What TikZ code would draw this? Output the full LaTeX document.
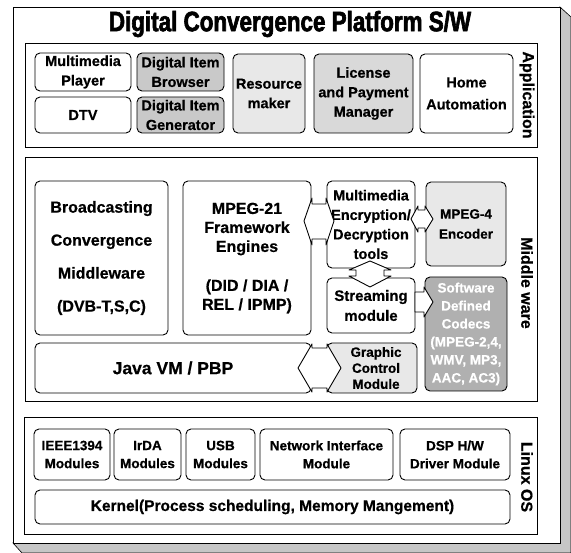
\documentclass[tikz,border=0pt]{standalone}
\usepackage{fontspec}
\setmainfont{Liberation Sans}[BoldFeatures={FakeBold=0.6}]
\newfontfamily\titlefont[FakeStretch=0.8,FakeBold=2.2]{Liberation Sans}
\newcommand\mkbox[7]{\node[#6, minimum width={#4-#2}, minimum height={#5-#3}] (#1) at ({(#2+#4)/2},{(#3+#5)/2}) {#7};}
\begin{document}
\begin{tikzpicture}[x=1pt,y=-1pt,
  frame/.style={draw=black, line width=0.7pt, inner sep=0pt},
  box/.style={draw=black, line width=0.9pt, rounded corners=5pt, inner sep=0pt, align=center, font=\bfseries\fontsize{14.5}{19.5}\selectfont},
  shA/.style={box, fill=gray!42},
  shB/.style={box, fill=gray!18},
  shC/.style={box, fill=gray!30},
  shD/.style={box, fill=gray!62, text=white},
  side/.style={rotate=-90, font=\bfseries\fontsize{16}{18}\selectfont},
  blk/.style={draw=black, line width=0.9pt, fill=white, line join=round}]
\useasboundingbox (0,0) rectangle (571,553);
% shadow and outer frame
\filldraw[fill=gray!45, draw=black, line width=0.6pt] (560,7) -- (571,17) -- (571,553) -- (22,553) -- (13,543) -- (560,543) -- cycle;
\mkbox{outer}{13}{7}{560}{543}{frame, fill=white}{}
\node[font=\titlefont\bfseries\fontsize{28}{30}\selectfont] (title) at (290,24) {Digital Convergence Platform S/W};
% application layer
\mkbox{app}{25}{43}{537}{147}{frame}{}
\node[side] (applbl) at (527,95) {Application};
\mkbox{mp}{35}{53}{131}{91}{box}{Multimedia\\Player}
\mkbox{dtv}{35}{97}{131}{133}{box}{DTV}
\mkbox{dib}{137}{53}{224}{91}{shA}{Digital Item\\Browser}
\mkbox{dig}{137}{97}{224}{133}{shA}{Digital Item\\Generator}
\mkbox{res}{233}{54}{305}{133}{shB}{Resource\\maker}
\mkbox{lic}{314}{54}{413}{133}{shC}{License\\and Payment\\Manager}
\mkbox{home}{420}{54}{513}{133}{box, font=\bfseries\fontsize{14.5}{22}\selectfont}{Home\\Automation}
% middleware layer
\mkbox{mid}{25}{157}{537}{401}{frame}{}
\node[side] (midlbl) at (527,283) {Middle ware};
\mkbox{bcm}{35}{181}{168}{335}{box, font=\bfseries\fontsize{16}{33}\selectfont}{Broadcasting\\Convergence\\Middleware\\(DVB-T,S,C)}
\mkbox{m21}{183}{181}{311}{335}{box, font=\bfseries\fontsize{16}{19}\selectfont}{MPEG-21\\Framework\\Engines\\[20pt](DID / DIA /\\REL / IPMP)}
\mkbox{enc}{327}{181}{415}{268}{box}{Multimedia\\Encryption/\\Decryption\\tools}
\mkbox{m4}{426}{182}{506}{266}{shB, font=\bfseries\fontsize{13.5}{20}\selectfont}{MPEG-4\\Encoder}
\mkbox{str}{327}{278}{415}{333}{box, font=\bfseries\fontsize{15}{20}\selectfont}{Streaming\\module}
\mkbox{sdc}{425}{277}{507}{391}{shD, font=\bfseries\fontsize{13.5}{18}\selectfont}{Software\\Defined\\Codecs\\(MPEG-2,4,\\WMV, MP3,\\AAC, AC3)}
\mkbox{java}{35}{343}{311}{393}{box, font=\bfseries\fontsize{17.5}{19}\selectfont}{Java VM / PBP}
\mkbox{gcm}{327}{343}{417}{393}{shB, font=\bfseries\fontsize{13.5}{16}\selectfont}{\hspace*{8pt}Graphic\\\hspace*{8pt}Control\\\hspace*{8pt}Module}
% block arrows
\draw[blk] (304,221) -- (312,198) -- (312,204) -- (326,204) -- (326,198) -- (334,221) -- (326,245) -- (326,239) -- (312,239) -- (312,245) -- cycle;
\draw[blk] (411,219) -- (418,206) -- (418,210) -- (425,210) -- (425,206) -- (433,219) -- (425,232) -- (425,228) -- (418,228) -- (418,232) -- cycle;
\draw[blk] (370,261) -- (391,270) -- (384,270) -- (384,276) -- (391,276) -- (370,287) -- (349,276) -- (356,276) -- (356,270) -- (349,270) -- cycle;
\draw[blk] (415,292) -- (424,292) -- (424,287) -- (433,302) -- (424,317) -- (424,312) -- (415,312) -- cycle;
\draw[blk] (298,368) -- (312,344) -- (312,348) -- (327,348) -- (327,344) -- (341,368) -- (327,392) -- (327,388) -- (312,388) -- (312,392) -- cycle;
% linux layer
\mkbox{lin}{24}{417}{537}{534}{frame}{}
\node[side] (linlbl) at (527,477) {Linux OS};
\mkbox{ieee}{34}{429}{110}{480}{box, font=\bfseries\fontsize{13.5}{18}\selectfont}{IEEE1394\\Modules}
\mkbox{irda}{114}{429}{181}{480}{box, font=\bfseries\fontsize{13.5}{18}\selectfont}{IrDA\\Modules}
\mkbox{usb}{186}{429}{255}{480}{box, font=\bfseries\fontsize{13.5}{18}\selectfont}{USB\\Modules}
\mkbox{net}{260}{429}{393}{480}{box, font=\bfseries\fontsize{13.5}{18}\selectfont}{Network Interface\\Module}
\mkbox{dsp}{400}{429}{510}{480}{box, font=\bfseries\fontsize{13.5}{18}\selectfont}{DSP H/W\\Driver Module}
\mkbox{ker}{35}{490}{510}{524}{box, font=\bfseries\fontsize{15.5}{18}\selectfont}{Kernel(Process scheduling, Memory Mangement)}
\end{tikzpicture}
\end{document}
